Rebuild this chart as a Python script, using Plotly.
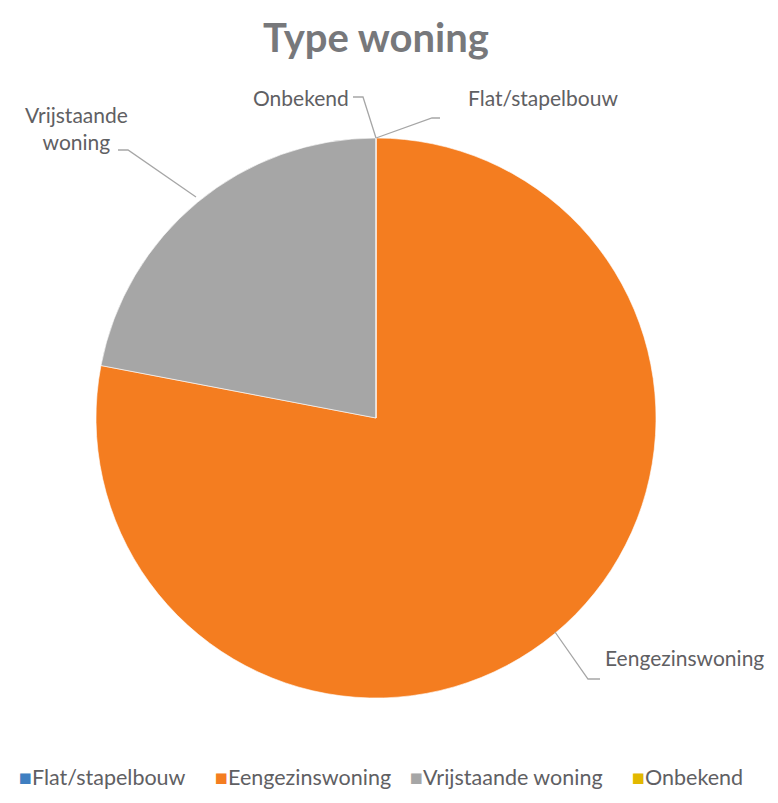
import plotly.graph_objects as go

categories = ["Flat/stapelbouw", "Eengezinswoning", "Vrijstaande woning", "Onbekend"]
values = [0, 78, 22, 0]
colors = ["#3F7FC1", "#F47D20", "#A6A6A6", "#E2B800"]

# page body has an 8px margin, so the figure is inset to fit the 778x803 window
OFF = 8
W, H = 778 - 2 * OFF, 803 - 2 * OFF

def px(x, y):
    """Convert window pixel coordinates to paper coordinates."""
    return (x - OFF) / W, 1 - (y - OFF) / H

fig = go.Figure()
cx, cy, r = 376, 418, 280
x0, y0 = px(cx - r, cy - r)
x1, y1 = px(cx + r, cy + r)
fig.add_trace(go.Pie(
    labels=categories, values=values, sort=False, direction="clockwise", rotation=0,
    marker=dict(colors=colors, line=dict(color="rgba(255,255,255,0.6)", width=1)),
    textinfo="none", hoverinfo="label+value", showlegend=False,
    domain=dict(x=[x0, x1], y=[y1, y0]),
))

text_color = "#5f6063"
font = "Lato, 'Open Sans', sans-serif"

# leader lines
leaders = [
    [(118, 150), (128, 150), (196, 197)],
    [(353, 97), (363, 97), (376, 138)],
    [(376, 138), (432, 118), (440, 118)],
    [(555, 632), (588, 679), (600, 679)],
]
for pts in leaders:
    path = ""
    for i, (x, y) in enumerate(pts):
        xp, yp = px(x, y)
        path += ("M" if i == 0 else " L") + f" {xp} {yp}"
    fig.add_shape(type="path", path=path, xref="paper", yref="paper",
                  line=dict(color="#A6A6A6", width=1.3))

labels_pos = [
    ("Vrijstaande<br>woning", 76, 128, "center"),
    ("Onbekend", 301, 97, "center"),
    ("Flat/stapelbouw", 543, 97, "center"),
    ("Eengezinswoning", 603, 657, "left"),
]
for t, x, y, anc in labels_pos:
    xp, yp = px(x, y)
    fig.add_annotation(text=t, x=xp, y=yp, xref="paper", yref="paper",
                       showarrow=False, align="center", xanchor=anc, yanchor="middle",
                       font=dict(family=font, size=21, color=text_color))

# legend built from the categories
legend_x = [17, 213, 408, 630]
for cat, c, lxp in zip(categories, colors, legend_x):
    lx, ly = px(lxp, 777)
    fig.add_annotation(text=f"<span style='color:{c}'>■</span>{cat}", x=lx, y=ly,
                       xref="paper", yref="paper", showarrow=False,
                       xanchor="left", yanchor="middle",
                       font=dict(family=font, size=21.5, color=text_color))

tx, ty = px(376, 38)
fig.update_layout(
    width=W, height=H,
    margin=dict(l=0, r=0, t=0, b=0),
    paper_bgcolor="white", plot_bgcolor="white",
    title=dict(text="<b>Type woning</b>", x=tx, xanchor="center", y=ty, yanchor="middle",
               font=dict(family=font, size=40, color="#77787B")),
    showlegend=False,
)

fig.write_html("out.html")
